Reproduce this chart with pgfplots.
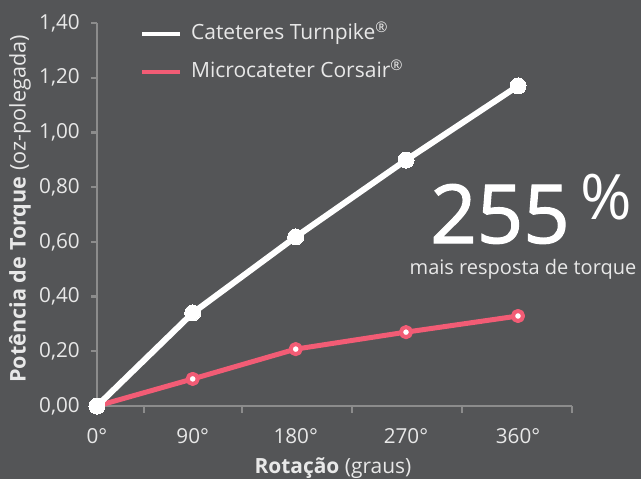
\documentclass[border=0pt]{standalone}
\usepackage{fontspec}
\setmainfont{Open Sans}
\newfontfamily\bigfont[FakeBold=1.5]{Open Sans}
\usepackage{pgfplots}
\pgfplotsset{compat=1.18}
\definecolor{bg}{HTML}{545557}
\definecolor{axgray}{HTML}{8C8C8C}
\definecolor{txt}{HTML}{E8E8E8}
\definecolor{pinkc}{HTML}{F25C75}
\begin{document}
\begin{tikzpicture}
\fill[bg] (-72.75pt,-54.75pt) rectangle (408pt,304.5pt);
\begin{axis}[
  at={(0pt,0pt)}, anchor=south west,
  scale only axis, width=356.25pt, height=287.25pt,
  xmin=0, xmax=475, ymin=0, ymax=1.4,
  clip=false,
  axis lines=left,
  axis line style={-, draw=axgray, line width=1.8pt},
  tick align=outside, major tick length=4.5pt,
  tick style={draw=axgray, line width=1.8pt},
  ytick={0,0.2,0.4,0.6,0.8,1.0,1.2,1.4},
  yticklabels={{0,00},{0,20},{0,40},{0,60},{0,80},{1,00},{1,20},{1,40}},
  xtick={0,95.7,198.7,309,421},
  xticklabels={0°,90°,180°,270°,360°},
  xtick style={draw=none},
  extra x ticks={47,145,255,365,475},
  extra x tick labels={},
  extra x tick style={xtick style={draw=axgray, line width=1.8pt}, major tick length=5pt},
  ticklabel style={font=\fontsize{15.5}{18}\selectfont, text=txt},
  yticklabel style={xshift=-4.9pt},
  xticklabel style={yshift=-8.6pt},
  xlabel={\textbf{Rotação} (graus)},
  xlabel style={at={(axis description cs:0.4968,-0.1775)}, anchor=base, font=\fontsize{15.7}{18}\selectfont, text=txt},
  ylabel={\textbf{Potência de Torque} (oz-polegada)},
  ylabel style={at={(axis description cs:-0.1621,0.5144)}, anchor=center, font=\fontsize{16.2}{18}\selectfont, text=txt},
  legend cell align=left,
  legend image code/.code={\draw[line width=3.1pt] (0pt,0pt) -- (28.5pt,0pt);},
  legend style={at={(axis cs:43,1.395)}, anchor=north west, draw=none, fill=none,
    inner sep=0pt, outer sep=0pt, font=\fontsize{15.75}{18}\selectfont, text=txt,
    row sep=13.5pt,
    nodes={inner sep=0pt, text height=11pt, text depth=4pt},
    /tikz/every odd column/.append style={column sep=6.75pt}},
]
\addlegendimage{white}
\addlegendentry{Cateteres Turnpike\textsuperscript{®}}
\addlegendimage{pinkc}
\addlegendentry{Microcateter Corsair\textsuperscript{®}}
\addplot[forget plot, pinkc, line width=3.75pt, line join=round, mark=*, mark size=3.8pt,
  mark options={fill=white, draw=pinkc, line width=3pt}]
  coordinates {(0,0) (95.7,0.099) (198.7,0.208) (309,0.27) (421,0.329)};
\addplot[forget plot, white, line width=4.5pt, line join=round, mark=*, mark size=6pt,
  mark options={fill=white, draw=white, line width=0pt}]
  coordinates {(0,0) (95.7,0.34) (198.7,0.618) (309,0.899) (421,1.17)};
\node[anchor=base west, text=white, font=\bigfont\fontsize{61}{70}\selectfont, inner sep=0pt] at (axis cs:333,0.5958) {255};
\node[anchor=base west, text=white, font=\fontsize{47}{52}\selectfont, inner sep=0pt] at (axis cs:483,0.680) {\%};
\node[anchor=base, text=txt, font=\fontsize{15}{18}\selectfont, inner sep=0pt] at (axis cs:426,0.4789) {mais resposta de torque};
\end{axis}
\pgfresetboundingbox
\path (-72.75pt,-54.75pt) rectangle (408pt,304.5pt);
\end{tikzpicture}
\end{document}
